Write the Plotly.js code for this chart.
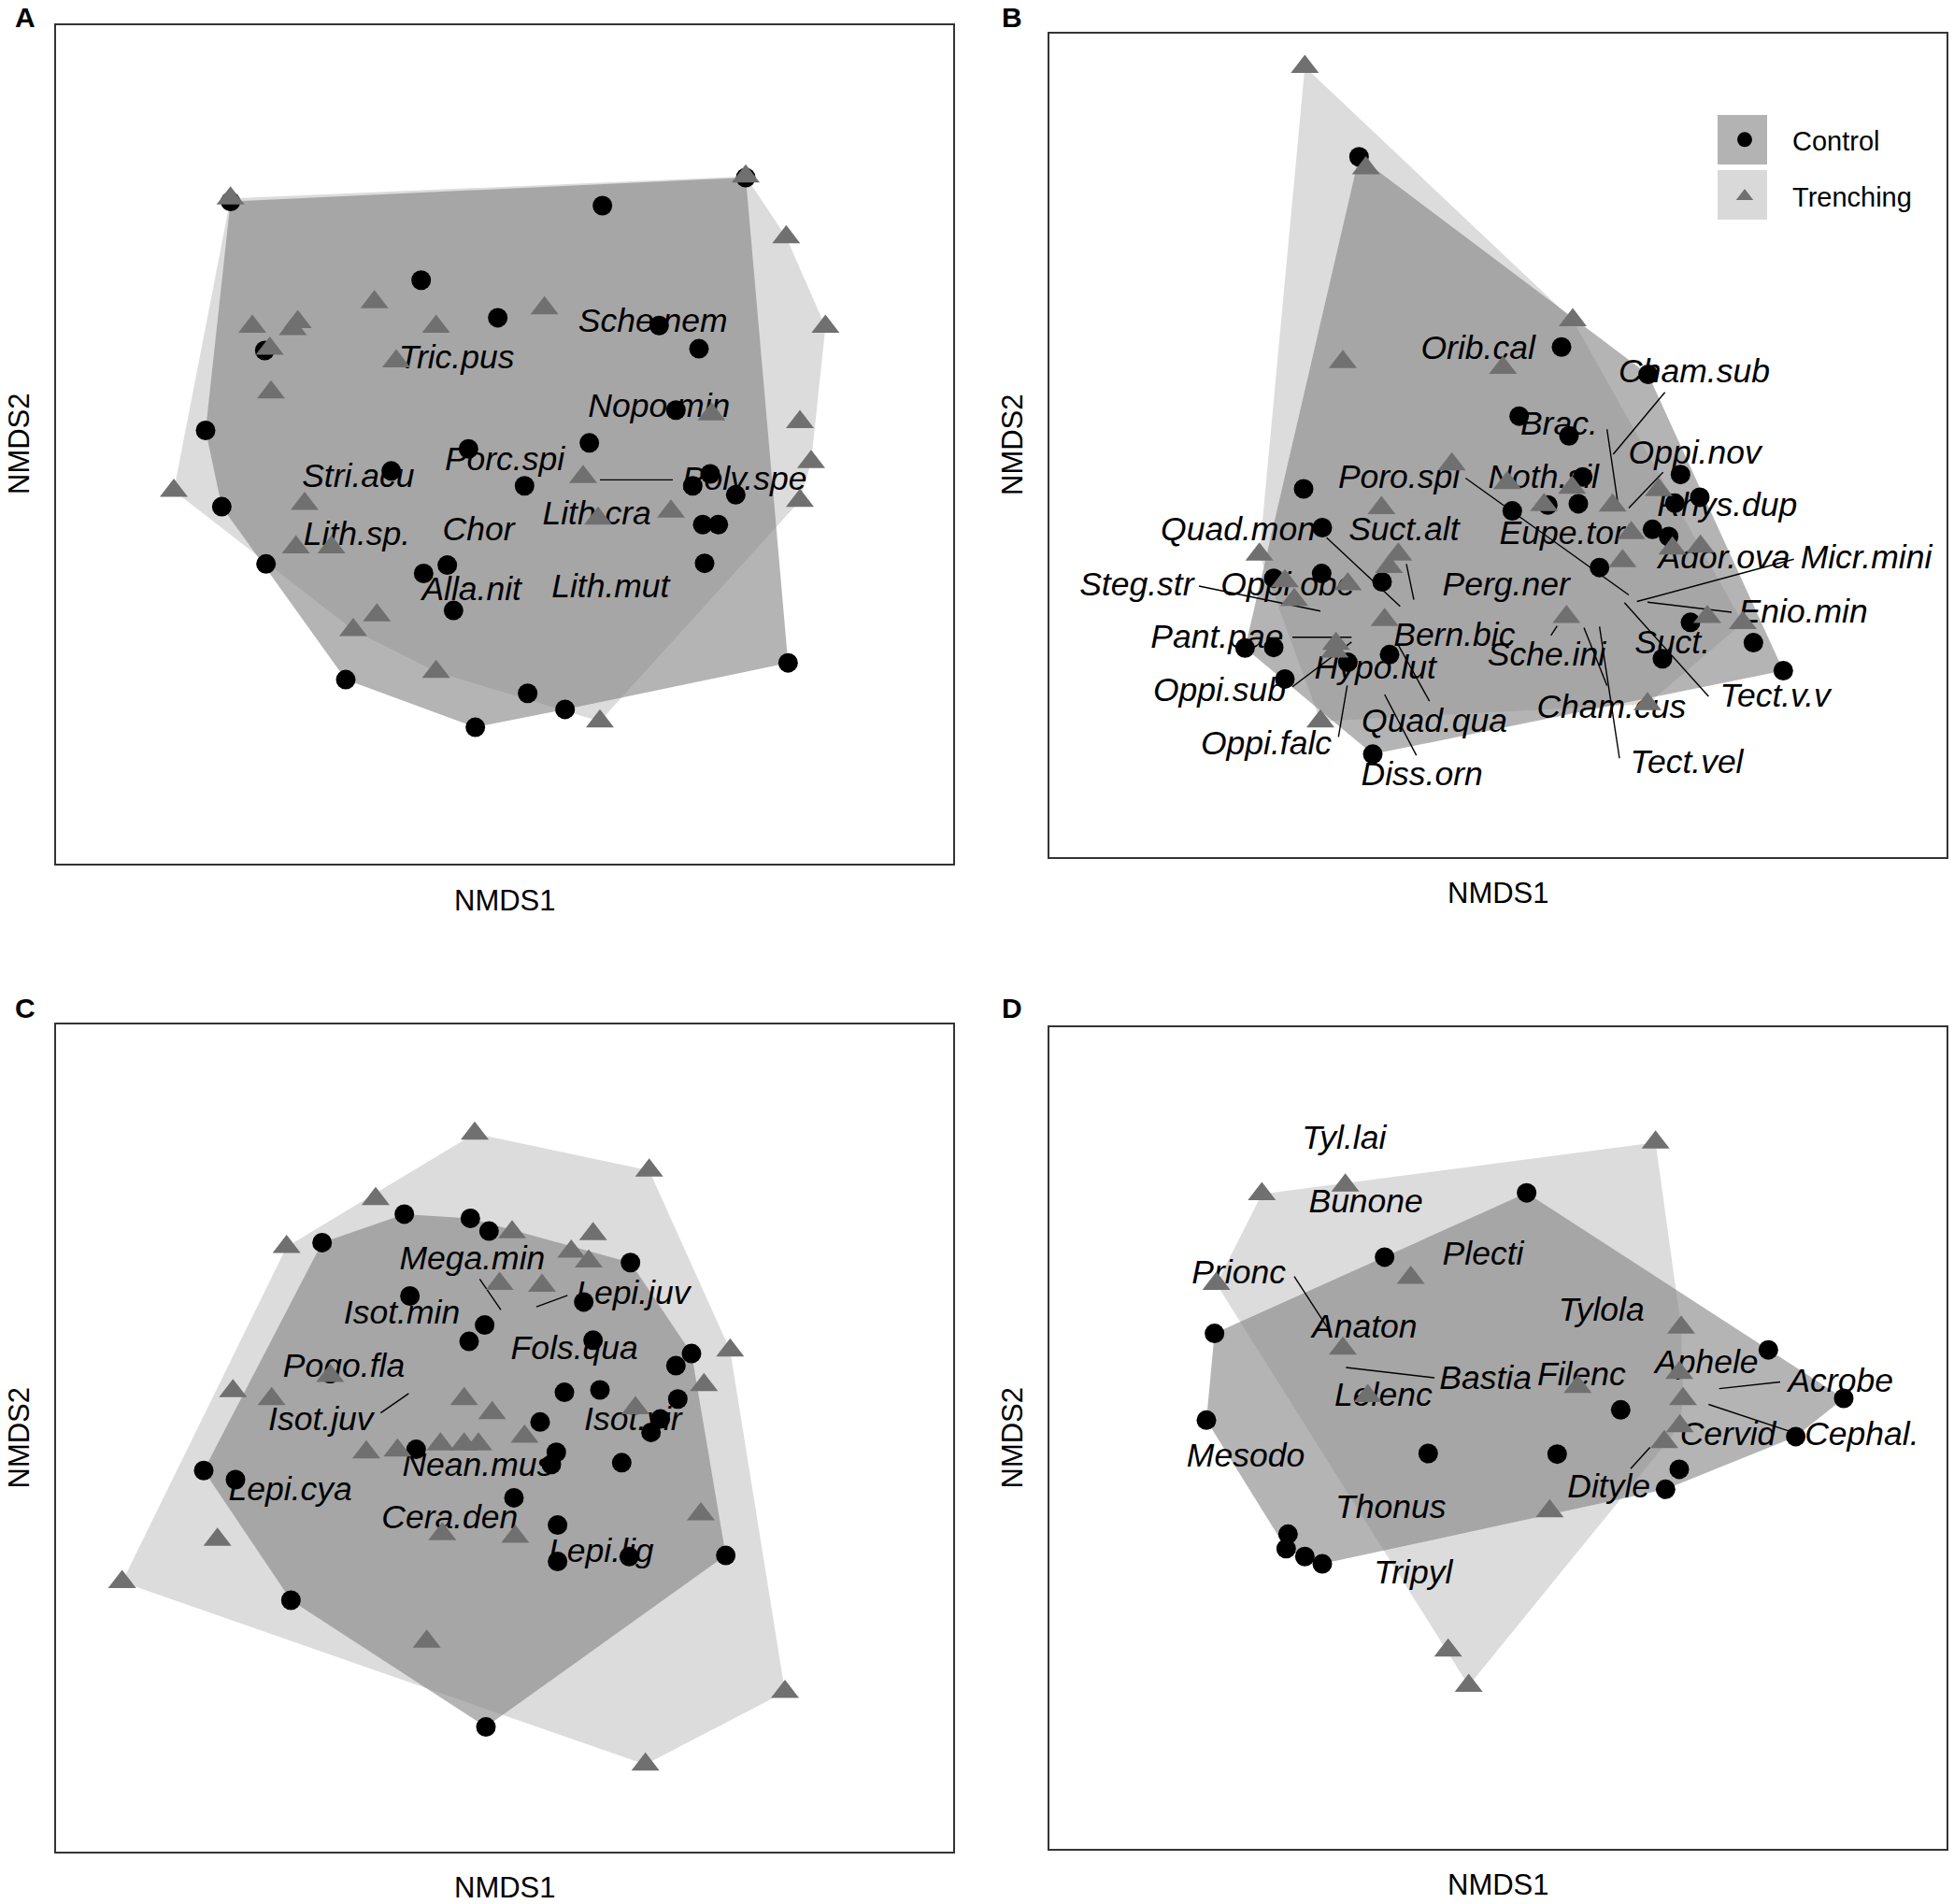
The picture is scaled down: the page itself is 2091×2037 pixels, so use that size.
<!DOCTYPE html>
<html>
<head>
<meta charset="utf-8">
<script src="https://cdn.plot.ly/plotly-3.0.1.min.js"></script>
<style>html,body{margin:0;padding:0;background:#fff;}#chart{width:2091px;height:2037px;}</style>
</head>
<body>
<div id="chart"></div>
<script>
// ---------- Panel A ----------
const aCtrlX = [370,1197,967,676,799,1058,1122,425,1085,946,752,628,842,1140,1112,1181,1128,1153,1131,330,356,427,718,680,728,1265,555,847,907,763];
const aCtrlY = [338,298,345,470,533,546,585,588,688,743,753,790,815,795,815,830,880,880,945,722,850,946,948,962,1024,1112,1140,1163,1190,1220];
const aTrenX = [370,1197,1262,1325,1284,1302,1284,405,478,470,433,601,700,874,636,435,1142,936,489,1077,960,279,475,532,605,567,700,963];
const aTrenY = [333,296,398,548,708,775,840,548,540,552,585,507,548,517,606,658,695,800,845,858,870,823,918,918,1032,1057,1127,1210];
const aSpecies = ["Sche.nem","Tric.pus","Nopo.min","Porc.spi","Stri.acu","Poly.spe","Lith.cra","Lith.sp.","Chor","Alla.nit","Lith.mut"];
const aSpecX = [1048,733,1058,810,575,1195,958,573,768,757,980];
const aSpecY = [543,604,686,775,803,808,865,900,893,993,988];
const aSegX1 = [963], aSegY1 = [805], aSegX2 = [1080], aSegY2 = [805];

// ---------- Panel B ----------
const bCtrlX = [614,939,1078,871,951,525,1130,1161,973,966,917,1121,860,555,1085,1111,477,554,651,1000,1146,1247,1295,1101,431,477,596,663,495,636];
const bCtrlY = [263,582,628,698,731,820,796,834,800,845,847,844,857,885,888,900,970,962,976,952,1044,1078,1125,1105,1087,1086,1111,1098,1139,1265];
const bTrenX = [527,625,957,588,845,763,852,956,911,1021,1095,650,1051,1117,1162,1037,454,677,662,495,596,510,655,947,1173,1230,577,575,552,1077];
const bTrenY = [112,282,537,607,617,779,810,818,847,848,822,852,894,920,917,941,930,930,951,975,980,1006,1040,1035,1035,1045,1080,1093,1210,1181];
const bSpecies = ["Orib.cal","Cham.sub","Brac.","Oppi.nov","Poro.spi","Noth.sil","Rhys.dup","Quad.mon","Suct.alt","Eupe.tor","Ador.ova","Micr.mini","Steg.str","Oppi.obe","Perg.ner","Enio.min","Pant.pae","Bern.bic","Sche.ini","Suct.","Hypo.lut","Oppi.sub","Tect.v.v","Quad.qua","Cham.cus","Oppi.falc","Diss.orn","Tect.vel"];
const bSpecX = [805,1152,935,1153,678,910,1205,420,686,940,1200,1428,257,500,850,1327,386,767,915,1117,640,390,1282,735,1019,465,715,1140];
const bSpecY = [588,628,715,763,805,805,852,893,893,898,940,940,985,985,985,1030,1073,1070,1103,1082,1125,1162,1172,1213,1190,1252,1303,1282];
const bSegX1 = [1105,1012,1102,785,562,690,357,507,507,595,677,655,1060,1077,1040,922,975,1000];
const bSegY1 = [658,720,792,802,902,946,983,1069,1152,1150,1082,1165,1009,1010,1011,1066,1053,1051];
const bSegX2 = [1022,1030,1047,1047,680,702,552,602,602,581,727,706,1312,1212,1175,932,1012,1032];
const bSegY2 = [762,848,852,998,1017,1006,1025,1069,1077,1236,1176,1267,938,1027,1168,1050,1150,1272];

// ---------- Panel C ----------
const cCtrlX = [649,755,785,517,1012,658,937,778,753,952,1110,1085,906,963,1088,867,1060,1045,668,893,885,998,327,378,825,895,895,1010,1165,467,780];
const cCtrlY = [430,437,458,477,510,565,575,613,640,638,660,680,724,720,735,773,768,790,818,823,843,840,853,868,898,943,1003,995,993,1067,1276];
const cTrenX = [762,1042,603,460,822,952,917,945,802,870,1172,530,1130,374,436,745,790,1020,842,588,638,707,745,768,1125,349,710,827,196,685,1260,1036];
const cTrenY = [297,358,405,484,460,463,492,508,545,548,655,697,712,722,735,735,758,750,797,823,820,810,810,810,925,967,958,962,1037,1135,1218,1338];
const cSpecies = ["Mega.min","Lepi.juv","Isot.min","Fols.qua","Pogo.fla","Isot.juv","Isot.vir","Nean.mus","Lepi.cya","Cera.den","Lepi.lig"];
const cSpecX = [758,1016,645,922,552,515,1016,767,466,722,965];
const cSpecY = [508,565,597,655,685,773,773,848,888,935,990];
const cSegX1 = [770,861,611], cSegY1 = [537,583,758], cSegX2 = [804,911,656], cSegY2 = [588,564,726];

// ---------- Panel D ----------
const dCtrlX = [883,655,382,369,1271,1392,1034,725,932,1315,1128,1106,500,497,527,555];
const dCtrlY = [395,501,627,770,654,734,753,825,826,797,851,884,958,982,995,1007];
const dTrenX = [1090,458,592,697,385,588,628,965,1131,1128,1134,1129,1104,920,757,790];
const dTrenY = [312,397,383,535,545,652,730,715,617,692,735,780,806,920,1150,1208];
const dSpecies = ["Tyl.lai","Bunone","Plecti","Prionc","Tylola","Anaton","Aphele","Bastia","Filenc","Acrobe","Lelenc","Cervid","Cephal.","Mesodo","Dityle","Thonus","Tripyl"];
const dSpecX = [590,625,813,421,1003,623,1172,817,971,1387,653,1206,1421,432,1015,665,701];
const dSpecY = [308,413,500,530,592,620,678,705,698,710,732,797,797,833,883,918,1025];
const dSegX1 = [510,593,1192,1175,1050], dSegY1 = [533,683,718,744,850], dSegX2 = [565,735,1290,1307,1081], dSegY2 = [620,700,707,789,815];

const groupNames = ["Control", "Trenching"];
const panelLetters = ["A", "B", "C", "D"];
const axisTitleX = "NMDS1", axisTitleY = "NMDS2";

// ---------- helpers ----------
function convexHull(xs, ys) {
  const pts = xs.map((x, i) => [x, ys[i]]).sort((a, b) => a[0] - b[0] || a[1] - b[1]);
  const cross = (o, a, b) => (a[0] - o[0]) * (b[1] - o[1]) - (a[1] - o[1]) * (b[0] - o[0]);
  const lower = [];
  for (const p of pts) { while (lower.length >= 2 && cross(lower[lower.length - 2], lower[lower.length - 1], p) <= 0) lower.pop(); lower.push(p); }
  const upper = [];
  for (let i = pts.length - 1; i >= 0; i--) { const p = pts[i]; while (upper.length >= 2 && cross(upper[upper.length - 2], upper[upper.length - 1], p) <= 0) upper.pop(); upper.push(p); }
  upper.pop(); lower.pop();
  const h = lower.concat(upper);
  return { x: h.map(p => p[0]), y: h.map(p => p[1]) };
}
function segs(x1, y1, x2, y2) {
  const x = [], y = [];
  for (let i = 0; i < x1.length; i++) { x.push(x1[i], x2[i], null); y.push(y1[i], y2[i], null); }
  return { x, y };
}

const FONT = "Liberation Sans, Arial, Helvetica, sans-serif";
const TRENCH_FILL = "#dcdcdc";
const CTRL_FILL = "rgba(130,130,130,0.6)";
const TRI_COLOR = "#707070";

const panels = [
  { cx: aCtrlX, cy: aCtrlY, tx: aTrenX, ty: aTrenY, sp: aSpecies, sx: aSpecX, sy: aSpecY, s: [aSegX1, aSegY1, aSegX2, aSegY2], ax: "x", ay: "y" },
  { cx: bCtrlX, cy: bCtrlY, tx: bTrenX, ty: bTrenY, sp: bSpecies, sx: bSpecX, sy: bSpecY, s: [bSegX1, bSegY1, bSegX2, bSegY2], ax: "x2", ay: "y2", legend: true },
  { cx: cCtrlX, cy: cCtrlY, tx: cTrenX, ty: cTrenY, sp: cSpecies, sx: cSpecX, sy: cSpecY, s: [cSegX1, cSegY1, cSegX2, cSegY2], ax: "x3", ay: "y3" },
  { cx: dCtrlX, cy: dCtrlY, tx: dTrenX, ty: dTrenY, sp: dSpecies, sx: dSpecX, sy: dSpecY, s: [dSegX1, dSegY1, dSegX2, dSegY2], ax: "x4", ay: "y4" }
];

const traces = [];
panels.forEach(p => {
  const th = convexHull(p.tx, p.ty);
  const ch = convexHull(p.cx, p.cy);
  traces.push({ type: "scatter", mode: "lines", x: th.x, y: th.y, fill: "toself", fillcolor: TRENCH_FILL, line: { width: 0, color: TRENCH_FILL }, xaxis: p.ax, yaxis: p.ay, showlegend: false, hoverinfo: "skip" });
  traces.push({ type: "scatter", mode: "lines", x: ch.x, y: ch.y, fill: "toself", fillcolor: CTRL_FILL, line: { width: 0, color: CTRL_FILL }, xaxis: p.ax, yaxis: p.ay, showlegend: false, hoverinfo: "skip" });
  const sg = segs(p.s[0], p.s[1], p.s[2], p.s[3]);
  traces.push({ type: "scatter", mode: "lines", x: sg.x, y: sg.y, line: { width: 1.4, color: "#000" }, xaxis: p.ax, yaxis: p.ay, showlegend: false, hoverinfo: "skip", connectgaps: false });
  traces.push({ type: "scatter", mode: "text", x: p.sx, y: p.sy, text: p.sp, textposition: "middle center",
    textfont: { family: FONT, size: 35.5, color: "#000", style: "italic" }, xaxis: p.ax, yaxis: p.ay, showlegend: false, hoverinfo: "skip" });
  traces.push({ type: "scatter", mode: "markers", x: p.cx, y: p.cy, name: groupNames[0], legendgroup: "c",
    marker: { symbol: "circle", size: 21, color: "#000", line: { width: 0 } }, xaxis: p.ax, yaxis: p.ay, showlegend: !!p.legend, hoverinfo: "skip" });
  traces.push({ type: "scatter", mode: "markers", x: p.tx, y: p.ty, name: groupNames[1], legendgroup: "t",
    marker: { symbol: "triangle-up", size: 26, color: TRI_COLOR, line: { width: 0 } }, xaxis: p.ax, yaxis: p.ay, showlegend: !!p.legend, hoverinfo: "skip" });
});

const W = 2091, H = 2037;
const px = v => v / W, py = v => 1 - v / H;
function axis(range, domain, anchor) {
  return { range: range, domain: domain, anchor: anchor, showticklabels: false, ticks: "", showgrid: false, zeroline: false,
    showline: true, mirror: true, linecolor: "#333333", linewidth: 2.2, fixedrange: true };
}
const layout = {
  width: W, height: H,
  margin: { l: 0, r: 0, t: 0, b: 0 },
  paper_bgcolor: "#fff", plot_bgcolor: "rgba(0,0,0,0)",
  font: { family: FONT, color: "#000" },
  xaxis: axis([90, 1530], [px(60), px(1020)], "y"),
  yaxis: axis([1448, 43], [py(923.5), py(27.4)], "x"),
  xaxis2: axis([117, 1557], [px(1123), px(2083)], "y2"),
  yaxis2: axis([1437, 57], [py(916.5), py(36.4)], "x2"),
  xaxis3: axis([90, 1530], [px(60), px(1020)], "y3"),
  yaxis3: axis([1482, 117], [py(1981.2), py(1095.9)], "x3"),
  xaxis4: axis([117, 1557], [px(1123), px(2083)], "y4"),
  yaxis4: axis([1477, 122], [py(1977.9), py(1099.1)], "x4"),
  showlegend: true,
  legend: { x: px(1816), y: py(124), xanchor: "left", yanchor: "top", bgcolor: "rgba(0,0,0,0)", borderwidth: 0,
    font: { family: FONT, size: 29, color: "#000" }, tracegroupgap: 20, itemwidth: 92, itemclick: false, itemdoubleclick: false },
  shapes: [
    { type: "rect", xref: "paper", yref: "paper", x0: px(1838), x1: px(1891), y0: py(176), y1: py(123), fillcolor: "#b3b3b3", line: { width: 0 }, layer: "above" },
    { type: "rect", xref: "paper", yref: "paper", x0: px(1838), x1: px(1891), y0: py(235), y1: py(182), fillcolor: "#d9d9d9", line: { width: 0 }, layer: "above" }
  ],
  annotations: []
};
const letterPos = [[27, 19], [1083, 19], [27, 1078], [1083, 1078]];
panelLetters.forEach((L, i) => layout.annotations.push({ text: "<b>" + L + "</b>", xref: "paper", yref: "paper", x: px(letterPos[i][0]), y: py(letterPos[i][1]), xanchor: "center", yanchor: "middle", showarrow: false, font: { family: FONT, size: 30, color: "#000" } }));
const xTitlePos = [[540, 963], [1603, 955], [540, 2019], [1603, 2016]];
const yTitlePos = [[20, 475], [1083, 476], [20, 1538.5], [1083, 1538.5]];
xTitlePos.forEach(p => layout.annotations.push({ text: axisTitleX, xref: "paper", yref: "paper", x: px(p[0]), y: py(p[1]), xanchor: "center", yanchor: "middle", showarrow: false, font: { family: FONT, size: 31, color: "#000" } }));
yTitlePos.forEach(p => layout.annotations.push({ text: axisTitleY, xref: "paper", yref: "paper", x: px(p[0]), y: py(p[1]), xanchor: "center", yanchor: "middle", textangle: -90, showarrow: false, font: { family: FONT, size: 31, color: "#000" } }));

Plotly.newPlot("chart", traces, layout, { staticPlot: true, displayModeBar: false });
</script>
</body>
</html>
